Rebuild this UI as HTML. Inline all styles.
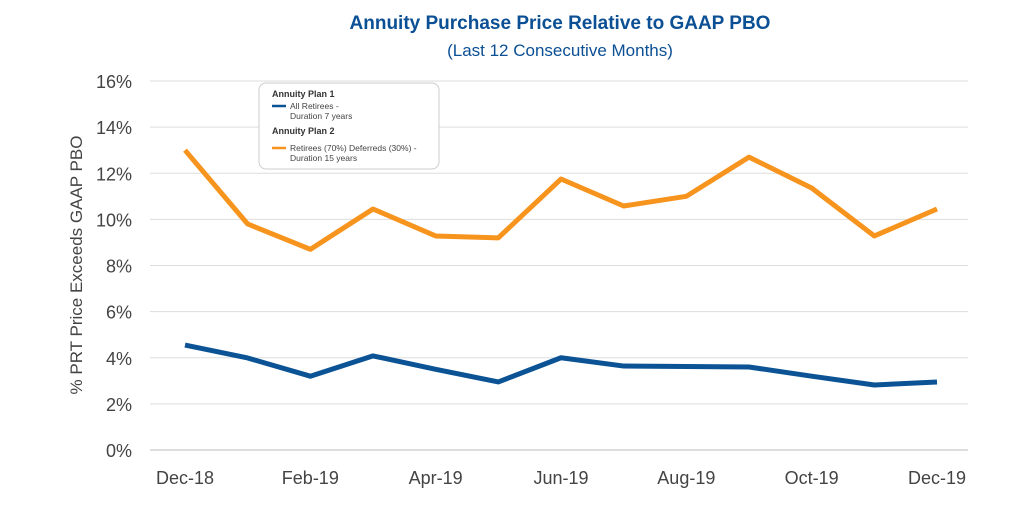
<!DOCTYPE html>
<html><head><meta charset="utf-8"><style>
body{margin:0;background:#fff;width:1024px;height:512px;overflow:hidden;font-family:"Liberation Sans",sans-serif}
</style></head><body>
<svg id="c" width="1024" height="512">
<text x="560" y="29" text-anchor="middle" font-size="19" font-weight="bold" fill="#0b4f94">Annuity Purchase Price Relative to GAAP PBO</text>
<text x="560" y="56" text-anchor="middle" font-size="17" fill="#0b4f94">(Last 12 Consecutive Months)</text>
<text transform="translate(82,265) rotate(-90)" text-anchor="middle" font-size="17" fill="#444">% PRT Price Exceeds GAAP PBO</text>
<g id="grid"></g><g id="lines"></g>
<g>
<rect x="259" y="83" width="180" height="86" rx="7" fill="#fff" stroke="#ccc"/>
<text x="272" y="97" font-size="9" font-weight="bold" fill="#333">Annuity Plan 1</text>
<line x1="272" x2="286" y1="106" y2="106" stroke="#0b5394" stroke-width="2.5"/>
<text x="290" y="109" font-size="8.5" fill="#444">All Retirees -</text>
<text x="290" y="119" font-size="8.5" fill="#444">Duration 7 years</text>
<text x="272" y="134" font-size="9" font-weight="bold" fill="#333">Annuity Plan 2</text>
<line x1="272" x2="286" y1="148" y2="148" stroke="#f7941d" stroke-width="2.5"/>
<text x="290" y="151" font-size="8.5" fill="#444">Retirees (70%) Deferreds (30%) -</text>
<text x="290" y="161" font-size="8.5" fill="#444">Duration 15 years</text>
</g>
</svg>
<script>
const months=["Dec-18","Jan-19","Feb-19","Mar-19","Apr-19","May-19","Jun-19","Jul-19","Aug-19","Sep-19","Oct-19","Nov-19","Dec-19"];
const plan1=[4.55,3.99,3.2,4.08,3.5,2.95,4.0,3.64,3.62,3.6,3.2,2.82,2.95];
const plan2=[13.0,9.8,8.7,10.45,9.28,9.2,11.75,10.58,11.0,12.7,11.36,9.28,10.45];
const yTicks=[0,2,4,6,8,10,12,14,16];
const NS="http://www.w3.org/2000/svg";
const x=i=>185+i*(937-185)/12, y=v=>450-v*(369/16);
const grid=document.getElementById('grid'), lines=document.getElementById('lines');
function mk(t,a,p){const e=document.createElementNS(NS,t);for(const k in a)e.setAttribute(k,a[k]);p.appendChild(e);return e;}
yTicks.forEach(v=>{
 const l=mk('line',{x1:150,x2:968,y1:y(v),y2:y(v),stroke:v===0?'#bbb':'#ddd','stroke-width':1},grid);
 
 
 const t=mk('text',{x:132,y:y(v)+7,'text-anchor':'end','font-size':18,fill:'#444'},grid);t.textContent=v+'%';
 
 
});
months.forEach((m,i)=>{if(i%2)return;
 const t=mk('text',{x:x(i),y:484,'text-anchor':'middle','font-size':18,fill:'#444'},grid);t.textContent=m;
 
 
});
[[plan2,'#f7941d','plan2-line'],[plan1,'#0b5394','plan1-line']].forEach(([d,c,n])=>{
 const p=mk('polyline',{points:d.map((v,i)=>x(i)+','+y(v)).join(' '),fill:'none',stroke:c,'stroke-width':5,'stroke-linejoin':'round'},lines);
 
 
});
</script>
</body></html>
